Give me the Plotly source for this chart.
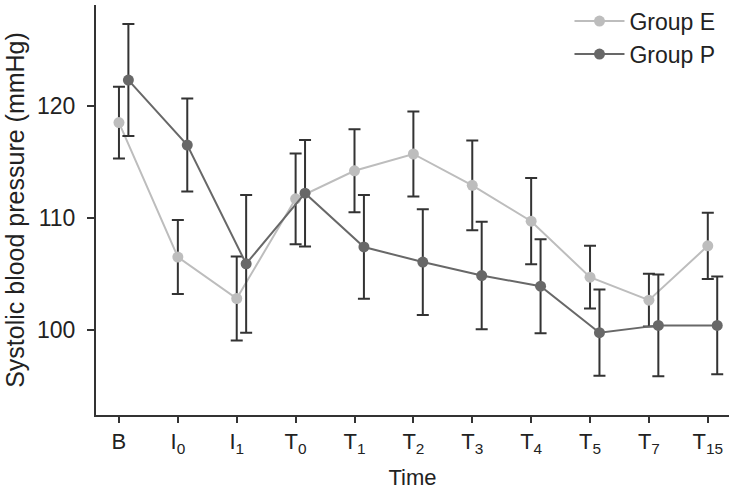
import plotly.graph_objects as go

categories = ["B", "I<sub>0</sub>", "I<sub>1</sub>", "T<sub>0</sub>", "T<sub>1</sub>", "T<sub>2</sub>",
              "T<sub>3</sub>", "T<sub>4</sub>", "T<sub>5</sub>", "T<sub>7</sub>", "T<sub>15</sub>"]
group_e_mean = [118.5, 106.5, 102.8, 111.7, 114.2, 115.7, 112.9, 109.7, 104.7, 102.65, 107.5]
group_e_err = [3.2, 3.3, 3.75, 4.05, 3.7, 3.8, 4.0, 3.85, 2.8, 2.35, 2.95]
group_p_mean = [122.3, 116.5, 105.9, 112.2, 107.4, 106.05, 104.85, 103.9, 99.75, 100.4, 100.4]
group_p_err = [5.0, 4.15, 6.15, 4.75, 4.63, 4.72, 4.8, 4.2, 3.85, 4.55, 4.36]

x_e = list(range(len(categories)))
x_p = [i + 0.16 for i in x_e]

FONT = "Liberation Sans, Arial, Helvetica, sans-serif"

fig = go.Figure()
fig.add_trace(go.Scatter(
    x=x_e, y=group_e_mean, name="Group E", mode="lines+markers",
    line=dict(color="#bdbdbd", width=2),
    marker=dict(color="#bdbdbd", size=11),
    error_y=dict(type="data", array=group_e_err, visible=True,
                 color="#333333", thickness=2, width=6),
))
fig.add_trace(go.Scatter(
    x=x_p, y=group_p_mean, name="Group P", mode="lines+markers",
    line=dict(color="#686868", width=2),
    marker=dict(color="#686868", size=11),
    error_y=dict(type="data", array=group_p_err, visible=True,
                 color="#333333", thickness=2, width=6),
))

fig.update_layout(
    width=731, height=490,
    margin=dict(l=96, r=2, t=5, b=75, autoexpand=False),
    plot_bgcolor="white", paper_bgcolor="white",
    font=dict(family=FONT, size=22, color="#222222"),
    showlegend=True,
    legend=dict(x=0.748, y=1.013, xanchor="left", yanchor="top",
                bgcolor="rgba(0,0,0,0)", font=dict(size=23, color="#222222"),
                itemwidth=50, tracegroupgap=0),
)
fig.update_xaxes(
    range=[-0.39, 10.36], automargin=False,
    tickmode="array", tickvals=x_e, ticktext=categories,
    showline=True, linecolor="#333333", linewidth=2,
    ticks="outside", ticklen=6, tickwidth=1.5, tickcolor="#333333",
    showgrid=False, zeroline=False,
    title=dict(text="Time", font=dict(size=22), standoff=15),
    tickfont=dict(size=22),
)
fig.update_yaxes(
    range=[92.4, 129.0], automargin=False,
    tickvals=[100, 110, 120],
    showline=True, linecolor="#333333", linewidth=2,
    ticks="outside", ticklen=7, tickwidth=1.5, tickcolor="#333333",
    ticklabelstandoff=7,
    showgrid=False, zeroline=False,
    title=dict(text="Systolic blood pressure (mmHg)", font=dict(size=25), standoff=5),
    tickfont=dict(size=23),
)

fig.write_html("out.html", config={"displayModeBar": False},
               post_script="document.body.style.margin='0';")
